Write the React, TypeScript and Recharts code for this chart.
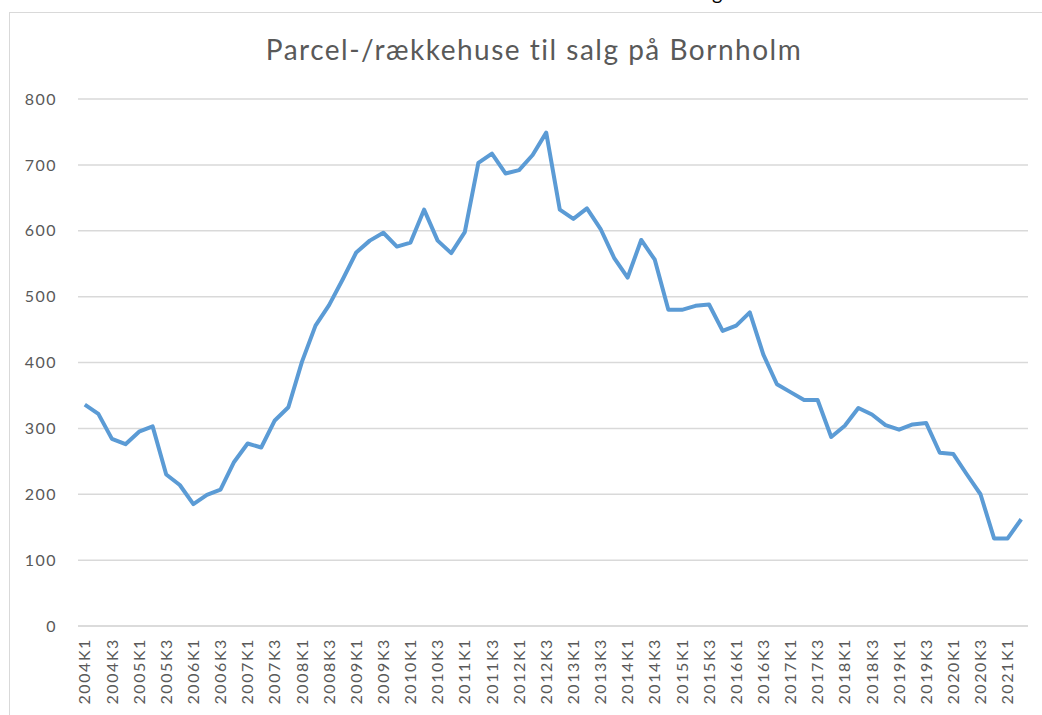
import { LineChart, Line, XAxis, YAxis, CartesianGrid } from 'recharts'

const years = [
  2004, 2005, 2006, 2007, 2008, 2009, 2010, 2011, 2012,
  2013, 2014, 2015, 2016, 2017, 2018, 2019, 2020, 2021,
]
const quarters = ['K1', 'K2', 'K3', 'K4']
// 2004K1 .. 2021K2
const periods = years.flatMap((y) => quarters.map((q) => `${y}${q}`)).slice(0, 70)

// parcel-/rækkehuse til salg
const forSale = [
  336, 322, 284, 276, 295, 303, 230, 214, 185, 199,
  207, 249, 277, 271, 312, 332, 401, 456, 487, 526,
  567, 585, 597, 576, 582, 632, 585, 566, 598, 703,
  717, 687, 692, 715, 749, 632, 618, 634, 603, 559,
  529, 586, 556, 480, 480, 486, 488, 448, 456, 476,
  412, 367, 355, 343, 343, 287, 304, 331, 321, 305,
  298, 306, 308, 263, 261, 230, 200, 133, 133, 162,
]

const yTicks = [0, 100, 200, 300, 400, 500, 600, 700, 800]

const FONT = 'Lato, "Liberation Sans", sans-serif'
const TEXT = '#595959'
const GRID = '#d9d9d9'

const data = periods.map((p, i) => ({ period: p, value: forSale[i] }))

function QuarterTick({ x, y, payload }: any) {
  return (
    <text
      x={0}
      y={0}
      transform={`translate(${x},${y + 12}) rotate(-90)`}
      textAnchor="end"
      dy="0.35em"
      fill={TEXT}
      fontSize={16}
      letterSpacing={1.6}
      fontFamily={FONT}
    >
      {payload.value}
    </text>
  )
}

export default function App() {
  return (
    <div
      style={{
        position: 'fixed',
        left: 0,
        top: 0,
        width: 1042,
        height: 715,
        background: '#fff',
        overflow: 'hidden',
      }}
    >
      <div
        style={{
          position: 'absolute',
          left: 9,
          top: 12,
          right: -10,
          bottom: -10,
          borderLeft: `1.5px solid ${GRID}`,
          borderTop: `1.5px solid ${GRID}`,
        }}
      />
      <div
        style={{
          position: 'absolute',
          left: 712,
          top: -18,
          fontFamily: FONT,
          fontSize: 20,
          lineHeight: '20px',
          color: '#000',
        }}
      >
        g
      </div>
      <div
        style={{
          position: 'absolute',
          left: 0,
          top: 35,
          width: 1068,
          textAlign: 'center',
          fontFamily: FONT,
          fontSize: 28,
          lineHeight: '28px',
          letterSpacing: 1.5,
          color: TEXT,
        }}
      >
        Parcel-/rækkehuse til salg på Bornholm
      </div>
      <div style={{ position: 'absolute', left: 0, top: 0 }}>
        <LineChart
          width={1042}
          height={715}
          data={data}
          margin={{ top: 99, right: 14, left: 0, bottom: 0 }}
        >
          <CartesianGrid horizontal vertical={false} stroke={GRID} strokeWidth={1.5} />
          <XAxis
            dataKey="period"
            interval={1}
            height={89}
            padding={{ left: 6.79, right: 6.79 }}
            axisLine={{ stroke: GRID, strokeWidth: 1.5 }}
            tickLine={false}
            tickSize={0}
            tickMargin={0}
            tick={<QuarterTick />}
          />
          <YAxis
            domain={[0, 800]}
            ticks={yTicks}
            width={78}
            axisLine={false}
            tickLine={false}
            tickSize={0}
            tickMargin={21}
            tick={{ fill: TEXT, fontSize: 16, fontFamily: FONT, letterSpacing: 1.5 }}
          />
          <Line
            type="linear"
            dataKey="value"
            stroke="#5b9bd5"
            strokeWidth={4}
            strokeLinejoin="round"
            dot={false}
            isAnimationActive={false}
          />
        </LineChart>
      </div>
    </div>
  )
}
